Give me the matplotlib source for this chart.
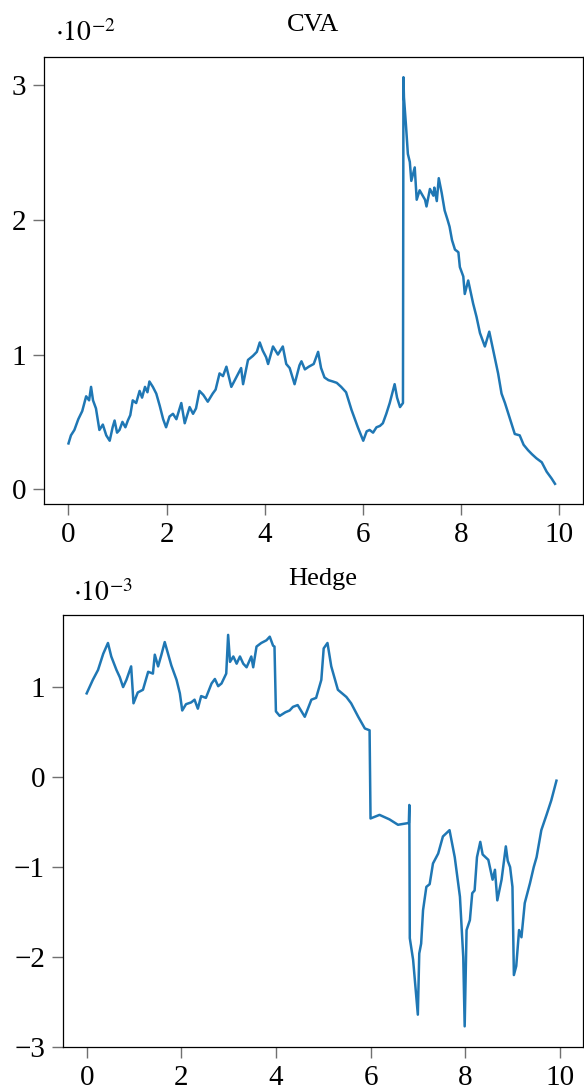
import matplotlib
matplotlib.use('Agg')
import matplotlib.pyplot as plt

# CVA path (values in units of 1e-2)
cva_t = [0.0, 0.05, 0.12, 0.2, 0.28, 0.36, 0.42, 0.46, 0.5, 0.56, 0.63, 0.7, 0.77, 0.84,
         0.9, 0.94, 0.99, 1.04, 1.1, 1.16, 1.21, 1.26, 1.31, 1.38, 1.45, 1.5, 1.56, 1.61,
         1.65, 1.72, 1.79, 1.86, 1.93, 1.99, 2.06, 2.13, 2.2, 2.3, 2.37, 2.42, 2.47, 2.54,
         2.6, 2.67, 2.75, 2.84, 2.94, 3.0, 3.08, 3.15, 3.22, 3.32, 3.42, 3.52, 3.56, 3.66,
         3.76, 3.84, 3.9, 3.96, 4.03, 4.07, 4.17, 4.27, 4.37, 4.44, 4.51, 4.61, 4.71, 4.75,
         4.82, 4.9, 5.0, 5.09, 5.15, 5.22, 5.3, 5.39, 5.47, 5.56, 5.66, 5.77, 5.9, 6.01,
         6.08, 6.14, 6.21, 6.28, 6.35, 6.41, 6.48, 6.55, 6.65, 6.7, 6.76, 6.82, 6.83, 6.84,
         6.88, 6.92, 6.96, 6.99, 7.06, 7.1, 7.16, 7.27, 7.3, 7.37, 7.44, 7.46, 7.51, 7.55,
         7.61, 7.67, 7.73, 7.77, 7.82, 7.88, 7.95, 7.98, 8.05, 8.08, 8.15, 8.25, 8.32, 8.39,
         8.49, 8.58, 8.69, 8.76, 8.83, 8.9, 8.97, 9.1, 9.2, 9.28, 9.37, 9.45, 9.54, 9.65,
         9.75, 9.85, 9.92]
cva_val = [0.34, 0.40, 0.44, 0.52, 0.58, 0.69, 0.66, 0.76, 0.66, 0.60, 0.44, 0.48, 0.40, 0.36,
           0.46, 0.51, 0.42, 0.44, 0.50, 0.46, 0.51, 0.55, 0.66, 0.64, 0.73, 0.68, 0.76, 0.72,
           0.80, 0.76, 0.71, 0.62, 0.52, 0.46, 0.54, 0.56, 0.52, 0.64, 0.49, 0.55, 0.61, 0.56,
           0.60, 0.73, 0.70, 0.65, 0.71, 0.74, 0.86, 0.84, 0.91, 0.76, 0.83, 0.90, 0.78, 0.96,
           0.99, 1.02, 1.09, 1.03, 0.98, 0.93, 1.06, 1.00, 1.06, 0.93, 0.90, 0.78, 0.92, 0.95,
           0.89, 0.91, 0.93, 1.02, 0.90, 0.83, 0.81, 0.80, 0.79, 0.76, 0.72, 0.59, 0.46, 0.36,
           0.43, 0.44, 0.42, 0.46, 0.47, 0.49, 0.56, 0.64, 0.78, 0.68, 0.61, 0.64, 3.06, 2.91,
           2.71, 2.49, 2.43, 2.29, 2.39, 2.15, 2.22, 2.15, 2.10, 2.23, 2.18, 2.24, 2.14, 2.31,
           2.20, 2.07, 2.00, 1.95, 1.85, 1.78, 1.76, 1.65, 1.58, 1.45, 1.55, 1.38, 1.28, 1.16,
           1.06, 1.17, 0.98, 0.86, 0.71, 0.64, 0.56, 0.41, 0.40, 0.33, 0.29, 0.26, 0.23, 0.20,
           0.13, 0.08, 0.04]

# Hedge path (values in units of 1e-3)
hedge_t = [0.0, 0.13, 0.24, 0.35, 0.45, 0.52, 0.63, 0.7, 0.77, 0.84, 0.94, 0.99, 1.08, 1.19,
           1.3, 1.4, 1.44, 1.51, 1.58, 1.65, 1.72, 1.79, 1.9, 1.97, 2.02, 2.1, 2.21, 2.28,
           2.35, 2.42, 2.52, 2.64, 2.71, 2.78, 2.85, 2.95, 2.99, 3.03, 3.1, 3.17, 3.24, 3.31,
           3.38, 3.48, 3.52, 3.59, 3.69, 3.8, 3.87, 3.94, 3.97, 4.0, 4.08, 4.2, 4.29, 4.36,
           4.46, 4.61, 4.75, 4.85, 4.96, 5.01, 5.09, 5.17, 5.31, 5.49, 5.59, 5.74, 5.88, 5.98,
           6.0, 6.19, 6.4, 6.58, 6.81, 6.82, 6.83, 6.9, 7.0, 7.03, 7.07, 7.11, 7.18, 7.25,
           7.32, 7.43, 7.53, 7.67, 7.78, 7.89, 7.96, 7.99, 8.03, 8.1, 8.15, 8.2, 8.25, 8.32,
           8.37, 8.49, 8.58, 8.63, 8.68, 8.77, 8.86, 8.9, 8.95, 9.0, 9.03, 9.08, 9.14, 9.19,
           9.26, 9.37, 9.45, 9.51, 9.61, 9.72, 9.82, 9.93]
hedge_val = [0.93, 1.08, 1.19, 1.37, 1.49, 1.34, 1.19, 1.11, 1.00, 1.08, 1.23, 0.82, 0.94, 0.97,
             1.17, 1.15, 1.36, 1.23, 1.36, 1.50, 1.37, 1.24, 1.08, 0.93, 0.74, 0.81, 0.83, 0.86,
             0.76, 0.90, 0.88, 1.04, 1.09, 1.01, 1.04, 1.15, 1.58, 1.28, 1.34, 1.26, 1.34, 1.26,
             1.22, 1.34, 1.22, 1.45, 1.49, 1.52, 1.56, 1.46, 1.45, 0.73, 0.68, 0.72, 0.74, 0.78,
             0.80, 0.67, 0.86, 0.88, 1.08, 1.43, 1.49, 1.23, 0.97, 0.89, 0.82, 0.67, 0.54, 0.52,
             -0.46, -0.42, -0.47, -0.53, -0.51, -0.31, -1.79, -2.03, -2.64, -1.96, -1.85, -1.48, -1.22, -1.19,
             -0.96, -0.85, -0.66, -0.59, -0.89, -1.33, -2.00, -2.77, -1.70, -1.59, -1.29, -1.26, -0.89, -0.72,
             -0.86, -0.92, -1.14, -1.03, -1.37, -1.14, -0.77, -0.93, -1.00, -1.22, -2.20, -2.10, -1.70, -1.78,
             -1.40, -1.18, -1.00, -0.89, -0.59, -0.42, -0.26, -0.04]

plt.rcParams['font.family'] = 'Liberation Serif'
plt.rcParams['mathtext.fontset'] = 'stix'
plt.rcParams['font.size'] = 21

fig = plt.figure(figsize=(5.84, 10.9), dpi=100)
ax1 = fig.add_axes([0.0753, 0.5376, 0.9229, 0.4101])
ax2 = fig.add_axes([0.1079, 0.0394, 0.8903, 0.3963])

ax1.plot(cva_t, cva_val, color='#1f77b4', linewidth=1.8)
ax1.set_xlim(-0.5, 10.49)
ax1.set_ylim(-0.11, 3.21)
ax1.set_yticks([0, 1, 2, 3])
ax1.set_title('CVA', pad=18.5, fontsize=19)
ax1.text(0.02, 1.035, r'$\cdot 10^{-2}$', transform=ax1.transAxes, fontsize=20)

ax2.plot(hedge_t, hedge_val, color='#1f77b4', linewidth=1.8)
ax2.set_xlim(-0.5, 10.49)
ax2.set_ylim(-3.0, 1.8)
ax2.set_yticks([-3, -2, -1, 0, 1])
ax2.set_yticklabels(['\u22123', '\u22122', '\u22121', '0', '1'])
ax2.set_title('Hedge', pad=22, fontsize=19)
ax2.text(0.02, 1.032, r'$\cdot 10^{-3}$', transform=ax2.transAxes, fontsize=20)

for ax in (ax1, ax2):
    ax.set_xticks([0, 2, 4, 6, 8, 10])
    ax.tick_params(direction='out', length=8, width=1, color='#707070', pad=5)
    for sp in ax.spines.values():
        sp.set_linewidth(0.9)

plt.savefig('out.png', dpi=100)
